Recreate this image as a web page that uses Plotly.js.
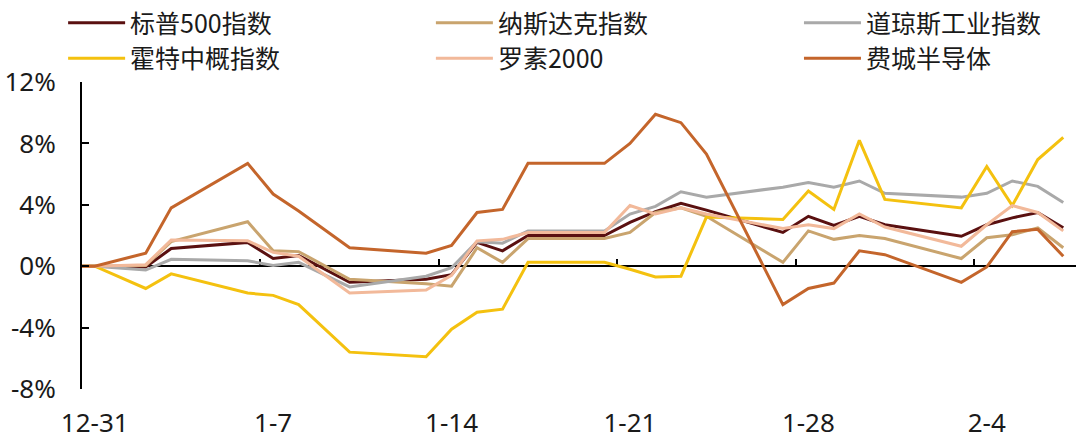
<!DOCTYPE html>
<html>
<head>
<meta charset="utf-8">
<script src="https://cdn.plot.ly/plotly-3.0.1.min.js"></script>
<style>
  html, body { margin: 0; padding: 0; background: #fff; }
  #chart { width: 1080px; height: 439px; }
</style>
</head>
<body>
<div id="chart"></div>
<script>
// Trading dates (first entry is the base point, value 0)
const dates = ['2024-12-30','2024-12-31','2025-01-02','2025-01-03','2025-01-06','2025-01-07','2025-01-08','2025-01-10',
  '2025-01-13','2025-01-14','2025-01-15','2025-01-16','2025-01-17','2025-01-20','2025-01-21','2025-01-22','2025-01-23',
  '2025-01-24','2025-01-27','2025-01-28','2025-01-29','2025-01-30','2025-01-31','2025-02-03','2025-02-04','2025-02-05',
  '2025-02-06','2025-02-07'];

// Cumulative change (%)
const sp500   = [0, 0, -0.05, 1.15, 1.55, 0.5, 0.7, -1.05, -0.85, -0.55, 1.55, 1.0, 2.0, 2.0, 2.85, 3.55, 4.1, 3.65, 2.2, 3.25, 2.65, 3.25, 2.7, 1.95, 2.7, 3.15, 3.5, 2.5];
const nasdaq  = [0, 0, 0.05, 1.6, 2.9, 1.0, 0.95, -0.85, -1.15, -1.3, 1.2, 0.25, 1.8, 1.8, 2.2, 3.5, 3.8, 3.25, 0.25, 2.3, 1.75, 2.0, 1.8, 0.5, 1.85, 2.05, 2.5, 1.2];
const dow     = [0, 0, -0.25, 0.45, 0.35, 0.05, 0.25, -1.35, -0.65, -0.1, 1.6, 1.5, 2.3, 2.3, 3.4, 3.9, 4.85, 4.5, 5.15, 5.45, 5.15, 5.55, 4.75, 4.5, 4.75, 5.55, 5.2, 4.15];
const china   = [0, 0, -1.45, -0.5, -1.75, -1.9, -2.5, -5.6, -5.9, -4.1, -3.0, -2.8, 0.25, 0.25, -0.2, -0.7, -0.65, 3.2, 3.05, 4.9, 3.7, 8.2, 4.35, 3.8, 6.5, 3.95, 6.95, 8.4];
const russell = [0, 0, 0.1, 1.7, 1.65, 0.9, 0.65, -1.75, -1.55, -0.6, 1.65, 1.75, 2.2, 2.2, 3.95, 3.4, 3.8, 3.4, 2.45, 2.7, 2.45, 3.4, 2.55, 1.3, 2.7, 3.95, 3.5, 2.3];
const sox     = [0, 0, 0.85, 3.8, 6.7, 4.7, 3.6, 1.2, 0.85, 1.35, 3.5, 3.7, 6.7, 6.7, 8.0, 9.9, 9.35, 7.3, -2.5, -1.45, -1.1, 1.0, 0.75, -1.05, -0.05, 2.25, 2.4, 0.65];

const seriesNames = ['标普500指数','纳斯达克指数','道琼斯工业指数','霍特中概指数','罗素2000','费城半导体'];
const seriesColors = ['#5a1010','#c9a46e','#a9a9a9','#f4c10f','#f2b99a','#c4652b'];
const seriesData = [sp500, nasdaq, dow, china, russell, sox];
const seriesLegend = ['legend','legend2','legend3','legend','legend2','legend3'];

// x tick labels
const tickDates = ['2024-12-31','2025-01-07','2025-01-14','2025-01-21','2025-01-28','2025-02-04'];
const tickLabels = ['12-31','1-7','1-14','1-21','1-28','2-4'];
// y ticks
const yTickVals = [-8, -4, 0, 4, 8, 12];
const yTickText = ['-8%','-4%','0%','4%','8%','12%'];

const xCenters = dates.map(d => d + ' 12:00');
const xRange = ['2024-12-31 00:00', '2025-02-08 00:00'];

const traces = seriesData.map((vals, i) => ({
  type: 'scatter', mode: 'lines',
  x: xCenters, y: vals,
  name: seriesNames[i],
  legend: seriesLegend[i],
  line: { color: seriesColors[i], width: 3 },
  hoverinfo: 'skip'
}));
traces.push({ type: 'scatter', mode: 'lines', x: [], y: [], xaxis: 'x2', yaxis: 'y', showlegend: false, hoverinfo: 'skip' });

const txt = '#1a1a1a';
function legendAt(x) {
  return {
    orientation: 'v', x: x, xanchor: 'left', xref: 'paper', y: 1, yanchor: 'top', yref: 'container',
    itemwidth: 57, tracegroupgap: 0,
    font: { family: 'Noto Sans CJK SC, sans-serif', size: 25, color: txt },
    bgcolor: 'rgba(0,0,0,0)', traceorder: 'normal'
  };
}
const layout = {
  width: 1080, height: 439,
  margin: { l: 82, r: 4, t: 82, b: 50 },
  paper_bgcolor: '#fff', plot_bgcolor: '#fff',
  font: { family: 'Noto Sans, Noto Sans CJK SC, sans-serif', color: txt, size: 26 },
  showlegend: true,
  legend: legendAt(-0.019),
  legend2: legendAt(0.351),
  legend3: legendAt(0.7213),
  xaxis: {
    type: 'date', range: xRange,
    tickvals: tickDates.map(d => d + ' 12:00'), ticktext: tickLabels,
    ticks: '', showline: false, showgrid: false, zeroline: false,
    tickfont: { size: 26, color: txt }, ticklabelstandoff: 16
  },
  xaxis2: {
    type: 'date', range: xRange, overlaying: 'x', anchor: 'free', position: 0.4,
    tickvals: tickDates, showticklabels: false,
    ticks: 'inside', ticklen: 6, tickwidth: 2, tickcolor: '#000',
    showline: true, linecolor: '#000', linewidth: 2, showgrid: false, zeroline: false,
    layer: 'below traces'
  },
  yaxis: {
    range: [-8, 12], tickvals: yTickVals, ticktext: yTickText,
    ticks: 'inside', ticklen: 7, tickwidth: 2, tickcolor: '#000',
    showline: true, linecolor: '#000', linewidth: 2, showgrid: false, zeroline: false,
    tickfont: { size: 26, color: txt }, ticklabelstandoff: 19
  }
};

Plotly.newPlot('chart', traces, layout, { displayModeBar: false, staticPlot: true });
</script>
</body>
</html>
